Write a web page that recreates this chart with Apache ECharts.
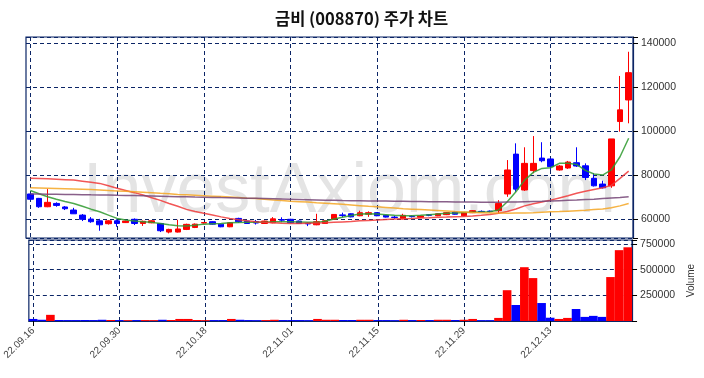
<!DOCTYPE html>
<html>
<head>
<meta charset="utf-8">
<script src="https://cdn.jsdelivr.net/npm/echarts@6/dist/echarts.min.js"></script>
<style>
  html, body { margin: 0; padding: 0; background: #fff; }
  #main { width: 704px; height: 378px; }
</style>
</head>
<body>
<div id="main"></div>
<script>
// 거래일
var dates = ['22.09.16','22.09.19','22.09.20','22.09.21','22.09.22','22.09.23','22.09.26','22.09.27','22.09.28','22.09.29',
  '22.09.30','22.10.04','22.10.05','22.10.06','22.10.07','22.10.11','22.10.12','22.10.13','22.10.14','22.10.17',
  '22.10.18','22.10.19','22.10.20','22.10.21','22.10.24','22.10.25','22.10.26','22.10.27','22.10.28','22.10.31',
  '22.11.01','22.11.02','22.11.03','22.11.04','22.11.07','22.11.08','22.11.09','22.11.10','22.11.11','22.11.14',
  '22.11.15','22.11.16','22.11.17','22.11.18','22.11.21','22.11.22','22.11.23','22.11.24','22.11.25','22.11.28',
  '22.11.29','22.11.30','22.12.01','22.12.02','22.12.05','22.12.06','22.12.07','22.12.08','22.12.09','22.12.12',
  '22.12.13','22.12.14','22.12.15','22.12.16','22.12.19','22.12.20','22.12.21','22.12.22','22.12.23','22.12.26'];

// [시가, 종가, 저가, 고가]
var candles = [
  [71400,69000,68700,71600],[69400,65600,65100,69600],[65600,67600,65400,73600],[67100,66200,65600,67600],[65500,64700,64100,65900],
  [64100,62400,62400,65100],[61800,59900,59100,62300],[60000,58800,58300,60900],[59200,57400,54700,60100],[57900,59200,57500,59500],
  [59200,58000,56500,59900],[58400,59100,58200,59300],[59900,58000,57300,60300],[58000,59000,56900,59300],[58300,59200,58100,59400],
  [58000,54700,54100,58200],[54100,55300,53500,55600],[54100,55500,53900,59700],[55300,57600,55000,57900],[56200,57700,55900,58000],
  [58200,58400,57900,58600],[58800,57700,57500,59000],[57700,56500,56300,57900],[56500,58300,56300,58500],[60300,58800,58300,60600],
  [59100,58000,57800,59300],[58900,58200,57500,59600],[58000,59100,57800,59300],[58300,60100,58100,60900],[59800,59500,58600,60800],
  [59900,58300,58100,60100],[59100,58000,57800,59300],[58100,57800,56800,58500],[57400,58800,57200,62400],[58000,59200,57800,59400],
  [59900,62100,59700,62300],[61900,61600,60900,62900],[62400,61000,60800,62600],[61500,62900,61300,63800],[62200,62900,61000,63500],
  [62900,61500,61300,63100],[61700,60900,60700,61900],[60900,60700,60100,61400],[60100,61700,59900,62400],[61300,61100,60700,61700],
  [60800,61400,60600,61600],[62000,61700,61300,62300],[61500,62400,61300,62600],[62000,62900,61800,63100],[63200,62200,62000,63400],
  [61500,63000,61300,63200],[62900,63800,62700,64000],[63500,63300,63000,63900],[63600,63400,63000,63900],[63800,67100,62600,68600],
  [71400,82300,70100,86800],[89500,73600,72400,94400],[73200,85300,72800,92600],[82000,85300,80800,97700],[87700,86500,85800,94900],
  [87300,83800,82300,87500],[82300,84100,82000,84500],[83200,85900,82800,86400],[85600,84100,83700,92600],[84200,78900,77700,85300],
  [78500,75100,74800,80800],[75900,74200,73900,77400],[75100,96400,74200,96400],[104300,109600,99700,125000],[114100,126500,103500,136000]
];

var ma5 = [73000,71500,70100,69000,68000,67100,65800,64500,63300,61800,
  60300,59600,59100,58800,58500,58000,57400,57000,56800,57200,
  57700,57900,58000,58300,58400,58500,58500,58600,58800,58800,
  58800,58700,58600,58500,59000,60000,60800,61600,62300,62400,
  62300,62000,61700,61500,61500,61700,62000,62300,62600,62800,
  63000,63100,63200,63300,64100,67900,72400,77700,81200,83000,
  83300,85300,85300,84800,82100,80500,80000,82300,88300,96700];

var ma20 = [78500,78400,78300,78100,77900,77700,77200,76700,76200,75100,
  74000,73000,72000,70900,69700,68500,67100,65800,64400,63400,
  62600,61800,61000,60300,59700,59200,58800,58500,58300,58100,
  58000,58000,58100,58200,58300,58500,58700,58900,59200,59400,
  59600,59800,60000,60200,60300,60500,60600,60800,60900,61100,
  61200,61400,61700,62100,62600,63400,64600,66000,67000,67800,
  68600,69600,70600,71700,72600,73400,74200,75300,78500,81800];

var ma60 = [74200,74100,74000,73900,73800,73700,73600,73400,73200,73000,
  72800,72600,72400,72200,72000,71700,71500,71200,71000,70800,
  70600,70400,70200,70000,69800,69500,69300,69000,68700,68400,
  68100,67900,67700,67400,67200,67000,66700,66400,66100,65800,
  65600,65300,65000,64700,64500,64300,64100,63900,63700,63400,
  63200,63000,62900,62800,62700,62600,62700,62800,62900,63100,
  63300,63400,63600,63800,64000,64300,64600,65100,66000,67100];

var ma120 = [71400,71350,71300,71250,71200,71150,71100,71000,70950,70900,
  70800,70750,70650,70550,70450,70350,70250,70150,70100,70000,
  69950,69850,69750,69700,69600,69500,69400,69300,69200,69100,
  69000,68900,68800,68700,68600,68500,68400,68350,68300,68250,
  68200,68150,68100,68050,68000,67950,67900,67900,67850,67800,
  67750,67700,67650,67650,67650,67700,67750,67850,67950,68050,
  68200,68350,68500,68650,68850,69050,69300,69550,69800,70100];

var volumes = [20000,12000,60000,10000,9000,9000,10000,9000,12000,10000,
  9000,8000,9000,9000,8000,12000,10000,20000,20000,10000,
  8000,9000,9000,20000,12000,9000,8000,9000,12000,9000,
  9000,9000,8000,20000,12000,12000,10000,10000,12000,12000,
  9000,9000,8000,12000,9000,10000,9000,12000,12000,10000,
  12000,20000,8000,8000,30000,300000,156000,524000,418000,175000,
  32000,20000,30000,117000,40000,50000,40000,428000,690000,718000];

var upColor = '#ff0000';
var downColor = '#0000ff';
var navy = '#0b2566';

var volData = [];
for (var i = 0; i < volumes.length; i++) {
    var up = candles[i][1] >= candles[i][0];
    volData.push({ value: volumes[i], itemStyle: { color: up ? upColor : downColor } });
}

function maLine(name, data, color) {
    return {
        name: name, type: 'line', data: data,
        xAxisIndex: 0, yAxisIndex: 0,
        symbol: 'none', smooth: false,
        lineStyle: { color: color, width: 1.5, opacity: 0.85 },
        z: 3
    };
}

var myChart = echarts.init(document.getElementById('main'));
var option = {
    animation: false,
    backgroundColor: '#ffffff',
    title: {
        text: '금비 (008870) 주가 차트',
        left: 270, top: 5,
        textStyle: { fontFamily: 'Noto Sans CJK KR', fontSize: 16.5, fontWeight: 'bold', color: '#111' }
    },
    graphic: [{
        type: 'text',
        left: 83, top: 158,
        z: -10,
        silent: true,
        style: {
            text: 'InvestAxiom.com',
            fontFamily: 'Liberation Sans',
            fontSize: 70,
            fill: '#e4e4e4'
        }
    }],
    grid: [
        { left: 26, right: 71, top: 37, height: 201, show: true, borderColor: navy, borderWidth: 1.2 },
        { left: 26, right: 71, top: 240, height: 81, show: true, borderColor: navy, borderWidth: 1.2 }
    ],
    xAxis: [
        {
            type: 'category', gridIndex: 0, data: dates, boundaryGap: true,
            axisLine: { show: false }, axisTick: { show: false }, axisLabel: { show: false },
            splitLine: { show: true, interval: 9, alignWithLabel: true, lineStyle: { color: navy, type: [4, 3], width: 1 } }
        },
        {
            type: 'category', gridIndex: 1, data: dates, boundaryGap: true,
            axisLine: { show: true, lineStyle: { color: navy, width: 1.2 } },
            axisTick: { show: true, interval: 9, alignWithLabel: true, length: 5, lineStyle: { color: '#000' } },
            axisLabel: { interval: 9, rotate: 45, fontSize: 10, color: '#444', margin: 8, fontFamily: 'Liberation Sans' },
            splitLine: { show: true, interval: 9, alignWithLabel: true, lineStyle: { color: navy, type: [4, 3], width: 1 } }
        }
    ],
    yAxis: [
        {
            type: 'value', gridIndex: 0, position: 'right', scale: true,
            min: 51400, max: 142700,
            axisLine: { show: true, lineStyle: { color: navy, width: 1.2 } },
            axisTick: { show: true, length: 5, lineStyle: { color: '#000' } },
            axisLabel: {
                fontSize: 10.5, color: '#333', margin: 8, fontFamily: 'Liberation Sans',
                formatter: function (v) { return v % 20000 === 0 ? v : ''; }
            },
            splitLine: { show: true, lineStyle: { color: navy, type: [4, 3], width: 1 } }
        },
        {
            type: 'value', gridIndex: 1, position: 'right',
            min: 0, max: 789000, interval: 250000,
            name: 'Volume', nameLocation: 'middle', nameRotate: 90, nameGap: 52,
            nameTextStyle: { fontSize: 10, color: '#333', fontFamily: 'Liberation Sans' },
            axisLine: { show: true, lineStyle: { color: navy, width: 1.2 } },
            axisTick: { show: true, length: 5, lineStyle: { color: '#000' } },
            axisLabel: {
                fontSize: 10.5, color: '#333', margin: 8, fontFamily: 'Liberation Sans',
                formatter: function (v) { return (v > 0 && v % 250000 === 0) ? v : ''; }
            },
            splitLine: { show: true, lineStyle: { color: navy, type: [4, 3], width: 1 } }
        }
    ],
    series: [
        {
            name: '주가', type: 'candlestick', data: candles,
            xAxisIndex: 0, yAxisIndex: 0,
            barWidth: 6,
            itemStyle: { color: upColor, color0: downColor, borderColor: upColor, borderColor0: downColor, borderWidth: 1 },
            z: 2
        },
        maLine('MA5', ma5, '#2e9a2e'),
        maLine('MA20', ma20, '#f03838'),
        maLine('MA60', ma60, '#f5a623'),
        maLine('MA120', ma120, '#744476'),
        {
            name: 'Volume', type: 'bar', data: volData,
            xAxisIndex: 1, yAxisIndex: 1,
            barCategoryGap: '0%'
        }
    ]
};
myChart.setOption(option);
</script>
</body>
</html>
